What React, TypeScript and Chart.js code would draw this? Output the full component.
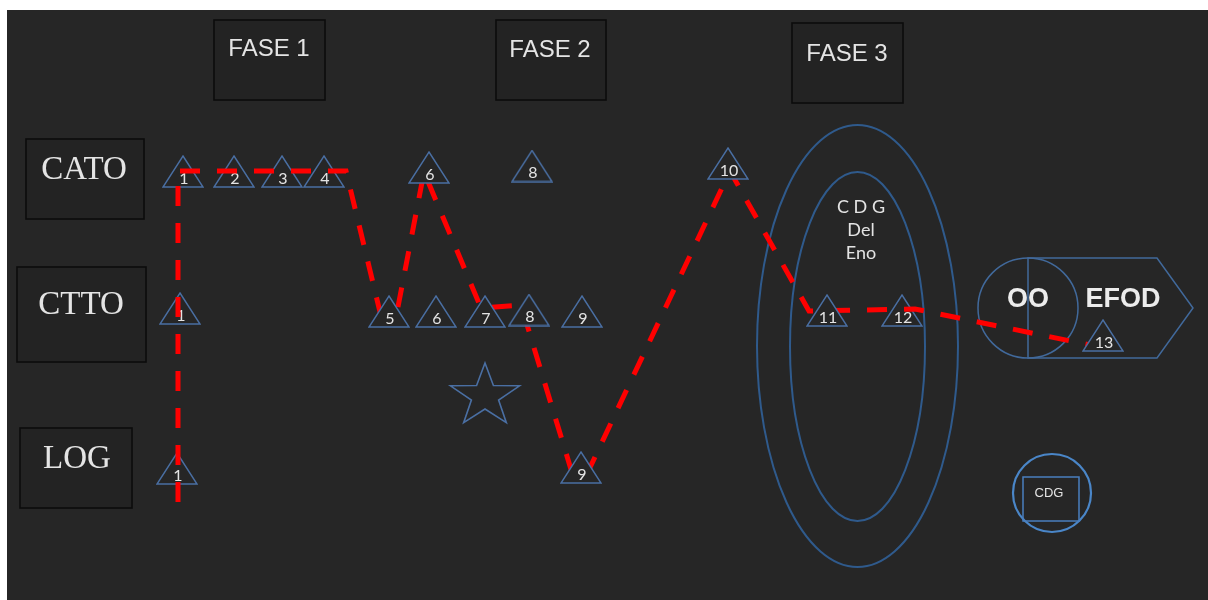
import React, { useEffect, useRef } from "react";
import { Chart, registerables } from "chart.js";

Chart.register(...registerables);

// ---- data ----
const TRIANGLE_LABELS = ["1", "2", "3", "4", "6", "8", "10", "1", "5", "6", "7", "8", "9", "11", "12", "13", "1", "9"];
const TRIANGLE_X = [183, 234, 282, 324, 429, 532, 728, 180, 389, 436, 485, 529, 582, 827, 902, 1103, 177, 581];
const TRIANGLE_Y = [171.5, 171.5, 171.5, 171.5, 167.5, 166, 163.5, 308.5, 311.5, 311.5, 311.5, 310, 311.5, 310.5, 310.5, 335.5, 468.5, 467.5];
// whether the step marker sits in front of the red path
const TRIANGLE_FRONT = [false, false, false, false, true, true, true, false, true, true, true, true, true, true, false, true, false, true];
const PATH_X = [178, 178, 346, 380, 397, 424, 481, 521, 573, 586, 730, 809, 915, 1090];
const PATH_Y = [502, 171, 171, 312, 312, 172, 308, 305, 476, 476, 171, 311, 309, 345];
const STAR_X = [485];
const STAR_Y = [396];
const ROW_LABELS = ["CATO", "CTTO", "LOG"];
const PHASE_LABELS = ["FASE 1", "FASE 2", "FASE 3"];
const CORE_LABELS = ["C D G", "Del", "Eno"];
const OUTCOME_LABELS = ["OO", "EFOD"];
const BADGE_LABEL = "CDG";

const BG = "#262626";
const TRI_COLOR = "#4a6fa3";
const TEXT_COLOR = "#e4e4e4";

function makeTriangle(): HTMLCanvasElement {
  const c = document.createElement("canvas");
  c.width = 42;
  c.height = 33;
  const g = c.getContext("2d")!;
  g.strokeStyle = TRI_COLOR;
  g.fillStyle = BG;
  g.lineWidth = 1.4;
  g.beginPath();
  g.moveTo(21, 1);
  g.lineTo(41, 32);
  g.lineTo(1, 32);
  g.closePath();
  g.fill();
  g.stroke();
  return c;
}

function makeStar(): HTMLCanvasElement {
  const c = document.createElement("canvas");
  c.width = 80;
  c.height = 72;
  const g = c.getContext("2d")!;
  g.strokeStyle = TRI_COLOR;
  g.lineWidth = 1.6;
  const cx = 40, cy = 36, R = 33, r = 13;
  g.beginPath();
  for (let i = 0; i < 10; i++) {
    const a = -Math.PI / 2 + (i * Math.PI) / 5;
    const rad = i % 2 === 0 ? R : r;
    const x = cx + Math.cos(a) * rad * 1.1;
    const y = cy + Math.sin(a) * rad;
    if (i === 0) g.moveTo(x, y);
    else g.lineTo(x, y);
  }
  g.closePath();
  g.stroke();
  return c;
}

const FRONT_IDX = TRIANGLE_X.map((_, i) => i).filter((i) => TRIANGLE_FRONT[i]);
const BACK_IDX = TRIANGLE_X.map((_, i) => i).filter((i) => !TRIANGLE_FRONT[i]);

const shapesPlugin = {
  id: "shapes",
  beforeDatasetsDraw(chart: any) {
    const ctx = chart.ctx as CanvasRenderingContext2D;
    const sx = chart.scales.x;
    const sy = chart.scales.y;
    const X = (v: number) => sx.getPixelForValue(v);
    const Y = (v: number) => sy.getPixelForValue(v);
    ctx.save();
    // background panel
    ctx.fillStyle = BG;
    ctx.fillRect(X(7), Y(10), X(1208) - X(7), Y(600) - Y(10));

    // row boxes
    const rowBoxes = [
      [26, 139, 118, 80, 84, 170],
      [17, 267, 129, 95, 81, 305],
      [20, 428, 112, 80, 77, 459],
    ];
    ctx.lineWidth = 1.6;
    ctx.strokeStyle = "#0c0c0c";
    rowBoxes.forEach((b, i) => {
      ctx.fillStyle = "#232323";
      ctx.fillRect(X(b[0]), Y(b[1]), b[2], b[3]);
      ctx.strokeRect(X(b[0]), Y(b[1]), b[2], b[3]);
      ctx.fillStyle = TEXT_COLOR;
      ctx.font = "33px 'Liberation Serif', 'Times New Roman', serif";
      ctx.textAlign = "center";
      ctx.textBaseline = "middle";
      ctx.fillText(ROW_LABELS[i], X(b[4]), Y(b[5]));
    });

    // phase boxes
    const phaseBoxes = [
      [214, 20, 111, 80, 269, 49],
      [496, 20, 110, 80, 550, 50],
      [792, 23, 111, 80, 847, 54],
    ];
    phaseBoxes.forEach((b, i) => {
      ctx.fillStyle = "#232323";
      ctx.fillRect(X(b[0]), Y(b[1]), b[2], b[3]);
      ctx.strokeStyle = "#0c0c0c";
      ctx.strokeRect(X(b[0]), Y(b[1]), b[2], b[3]);
      ctx.fillStyle = TEXT_COLOR;
      ctx.font = "24px 'Liberation Sans', Arial, sans-serif";
      ctx.textAlign = "center";
      ctx.textBaseline = "middle";
      ctx.fillText(PHASE_LABELS[i], X(b[4]), Y(b[5]));
    });

    // ellipses
    ctx.strokeStyle = "#2f5a8c";
    ctx.lineWidth = 2;
    ctx.beginPath();
    ctx.ellipse(X(857.5), Y(346), 100.5, 221, 0, 0, Math.PI * 2);
    ctx.stroke();
    ctx.beginPath();
    ctx.ellipse(X(857.5), Y(346.5), 67.5, 174.5, 0, 0, Math.PI * 2);
    ctx.stroke();
    ctx.fillStyle = TEXT_COLOR;
    ctx.font = "18px Lato, 'Open Sans', sans-serif";
    ctx.textAlign = "center";
    ctx.textBaseline = "middle";
    const coreY = [207, 230, 253];
    CORE_LABELS.forEach((t, i) => ctx.fillText(t, X(861), Y(coreY[i])));

    // OO circle + EFOD pentagon
    ctx.strokeStyle = "#41699b";
    ctx.lineWidth = 1.5;
    ctx.beginPath();
    ctx.moveTo(X(1028), Y(258));
    ctx.lineTo(X(1157), Y(258));
    ctx.lineTo(X(1193), Y(308));
    ctx.lineTo(X(1157), Y(358));
    ctx.lineTo(X(1028), Y(358));
    ctx.closePath();
    ctx.stroke();
    ctx.beginPath();
    ctx.arc(X(1028), Y(308), 50, 0, Math.PI * 2);
    ctx.stroke();
    ctx.fillStyle = "#ececec";
    ctx.font = "bold 27px 'Liberation Sans', Arial, sans-serif";
    ctx.fillText(OUTCOME_LABELS[0], X(1028), Y(300));
    ctx.fillText(OUTCOME_LABELS[1], X(1123), Y(300));

    // small CDG badge
    ctx.strokeStyle = "#4a86c8";
    ctx.lineWidth = 2.2;
    ctx.beginPath();
    ctx.arc(X(1052), Y(493), 39, 0, Math.PI * 2);
    ctx.stroke();
    ctx.lineWidth = 1.5;
    ctx.strokeStyle = "#4a7fbf";
    ctx.strokeRect(X(1023), Y(477), 56, 44);
    ctx.fillStyle = TEXT_COLOR;
    ctx.font = "13px 'Liberation Sans', Arial, sans-serif";
    ctx.fillText(BADGE_LABEL, X(1049), Y(493));
    ctx.restore();
  },
  afterDatasetDraw(chart: any, args: any) {
    if (args.index !== 0 && args.index !== 2) return;
    const idx = args.index === 0 ? FRONT_IDX : BACK_IDX;
    const ctx = chart.ctx as CanvasRenderingContext2D;
    const meta = chart.getDatasetMeta(args.index);
    ctx.save();
    ctx.fillStyle = TEXT_COLOR;
    ctx.font = "16px Lato, 'Open Sans', sans-serif";
    ctx.textAlign = "center";
    ctx.textBaseline = "middle";
    meta.data.forEach((pt: any, j: number) => {
      ctx.fillText(TRIANGLE_LABELS[idx[j]], pt.x + 1, pt.y + 7);
    });
    ctx.restore();
  },
};

export default function App() {
  const ref = useRef<HTMLCanvasElement | null>(null);
  useEffect(() => {
    if (!ref.current) return;
    const tri = makeTriangle();
    const star = makeStar();
    const chart = new Chart(ref.current, {
      type: "scatter",
      data: {
        datasets: [
          {
            label: "steps-front",
            data: FRONT_IDX.map((i) => ({ x: TRIANGLE_X[i], y: TRIANGLE_Y[i] })),
            pointStyle: tri as any,
            pointRadius: 20,
            showLine: false,
          } as any,
          {
            label: "path",
            data: PATH_X.map((x, i) => ({ x, y: PATH_Y[i] })),
            showLine: true,
            borderColor: "#ff0000",
            borderWidth: 5,
            borderDash: [20, 17],
            borderCapStyle: "butt",
            borderJoinStyle: "miter",
            pointRadius: 0,
            tension: 0,
            fill: false,
          } as any,
          {
            label: "steps-back",
            data: BACK_IDX.map((i) => ({ x: TRIANGLE_X[i], y: TRIANGLE_Y[i] })),
            pointStyle: tri as any,
            pointRadius: 20,
            showLine: false,
          } as any,
          {
            label: "star",
            data: STAR_X.map((x, i) => ({ x, y: STAR_Y[i] })),
            pointStyle: star as any,
            pointRadius: 30,
            showLine: false,
          } as any,
        ],
      },
      options: {
        animation: false,
        responsive: false,
        events: [],
        layout: { padding: 0, autoPadding: false } as any,
        plugins: { legend: { display: false }, tooltip: { enabled: false } },
        scales: {
          x: { type: "linear", min: 0, max: 1208, display: false },
          y: { type: "linear", min: 0, max: 600, reverse: true, display: false },
        },
      },
      plugins: [shapesPlugin],
    });
    return () => chart.destroy();
  }, []);
  return (
    <div style={{ position: "fixed", left: 0, top: 0, width: 1208, height: 600, background: "#fff" }}>
      <canvas ref={ref} width={1208} height={600} style={{ display: "block" }} />
    </div>
  );
}
